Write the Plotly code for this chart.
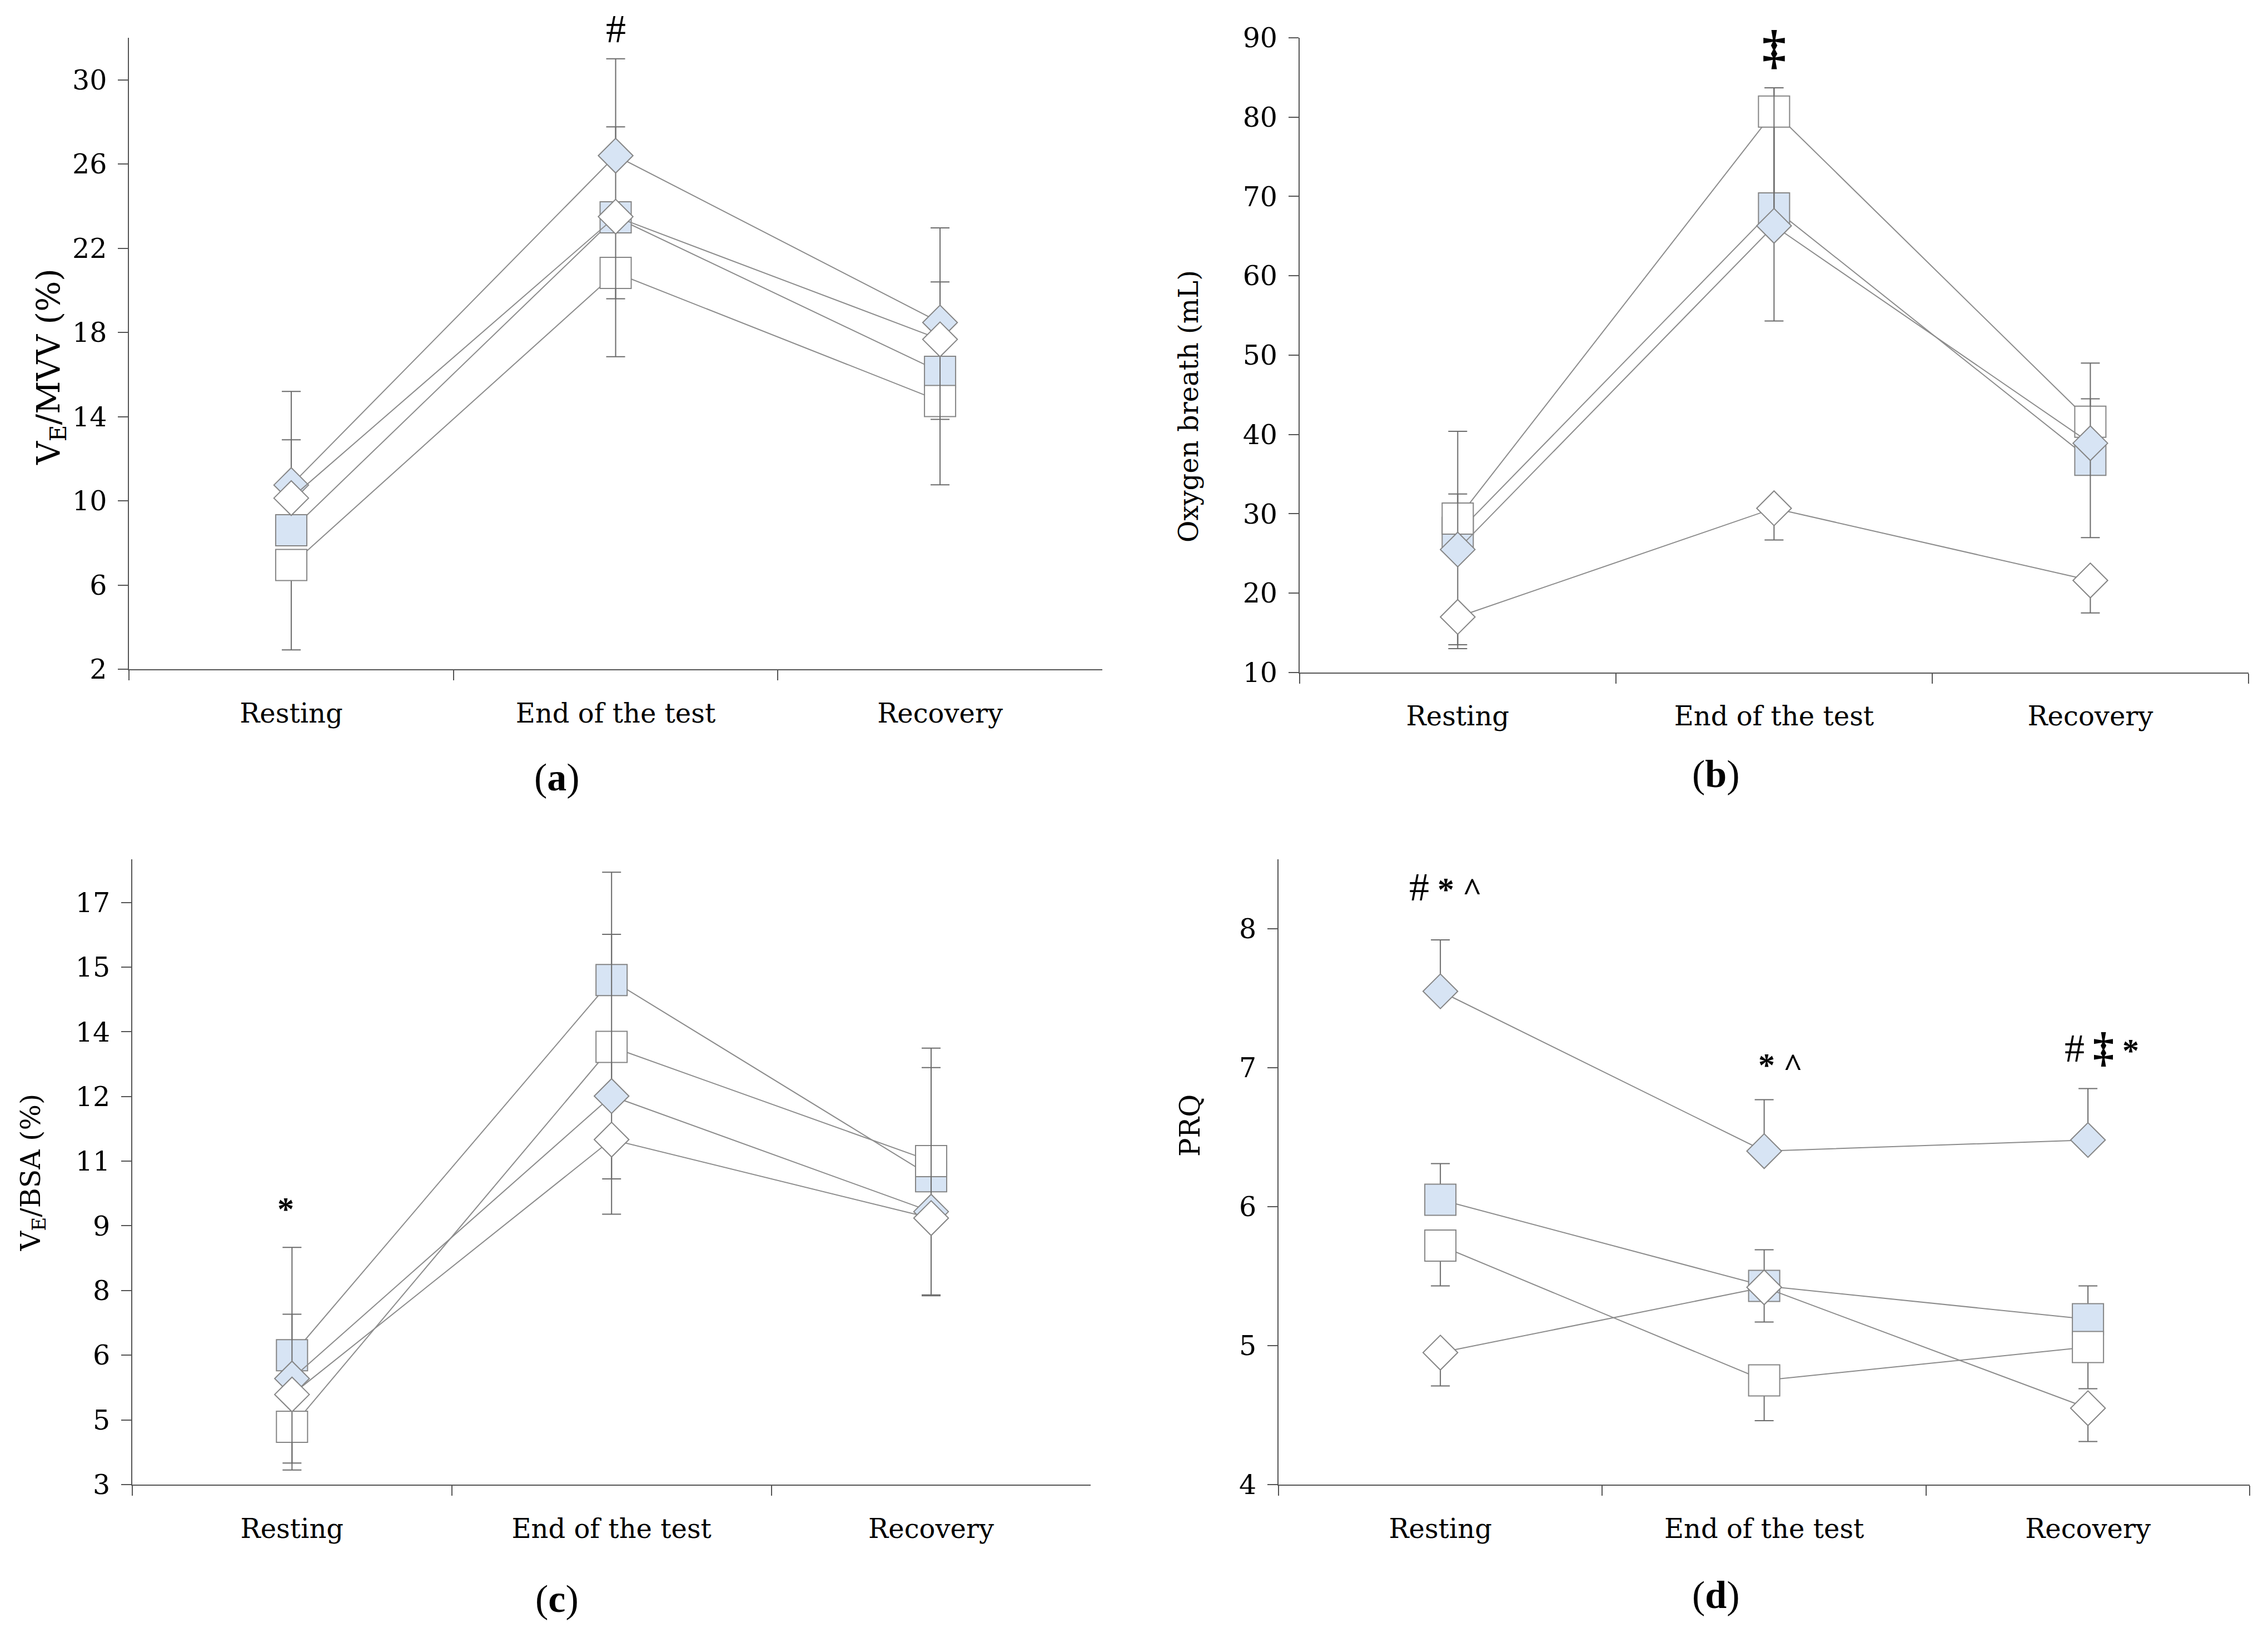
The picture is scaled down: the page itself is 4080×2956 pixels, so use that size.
import plotly.graph_objects as go

phases = ["Resting", "End of the test", "Recovery"]

# panel (a) VE/MVV (%)
a_blue_dia = [10.75, 26.4, 18.47]
a_blue_dia_up = [4.45, 4.6, 4.5]
a_blue_sq = [8.6, 23.47, 16.13]
a_blue_sq_up = [4.3, 4.3, 4.27]
a_white_sq = [6.95, 20.83, 14.74]
a_white_sq_dn = [4.03, 3.98, 3.98]
a_white_dia = [10.13, 23.5, 17.67]
a_white_dia_dn = [0, 3.9, 3.8]
a_ticks = [2, 6, 10, 14, 18, 22, 26, 30]

# panel (b) oxygen breath (mL)
b_blue_dia = [25.5, 66.3, 38.9]
b_blue_dia_up = [14.9, 17.4, 10.1]
b_blue_sq = [27.6, 68.5, 36.8]
b_blue_sq_up = [4.9, 15.2, 7.7]
b_white_sq = [29.4, 80.7, 41.6]
b_white_sq_dn = [15.9, 26.4, 14.6]
b_white_dia = [17.0, 30.7, 21.6]
b_white_dia_dn = [4.0, 4.0, 4.1]
b_ticks = [10, 20, 30, 40, 50, 60, 70, 80, 90]

# panel (c) VE/BSA (%)
c_blue_dia = [5.46, 12.01, 9.33]
c_blue_dia_up = [1.49, 3.75, 3.79]
c_blue_sq = [6.0, 14.7, 10.15]
c_blue_sq_up = [2.5, 2.5, 2.52]
c_white_sq = [4.34, 13.15, 10.5]
c_white_sq_dn = [0.84, 3.88, 3.1]
c_white_dia = [5.09, 11.0, 9.18]
c_white_dia_dn = [1.75, 0.91, 1.8]
c_ticks = [3, 4.5, 6, 7.5, 9, 10.5, 12, 13.5, 15, 16.5]
c_ticklabels = ["3", "5", "6", "8", "9", "11", "12", "14", "15", "17"]

# panel (d) PRQ
d_blue_dia = [7.55, 6.40, 6.48]
d_blue_dia_up = [0.37, 0.37, 0.37]
d_blue_sq = [6.05, 5.43, 5.19]
d_blue_sq_up = [0.26, 0.26, 0.24]
d_white_sq = [5.72, 4.75, 4.99]
d_white_sq_dn = [0.29, 0.29, 0.30]
d_white_dia = [4.95, 5.42, 4.55]
d_white_dia_dn = [0.24, 0.25, 0.24]
d_ticks = [4, 5, 6, 7, 8]

SERIF = "DejaVu Serif"
MARKF = "Liberation Serif"
BLUE = "#d7e4f4"
EDGE = "#858585"
ERR = "#6b6b6b"
AXIS = "#555555"

# page body has an 8px margin, pull everything back by that much
DX = 8 / 4080
DY = 8 / 2956

fig = go.Figure()


def add_series(n, vals, err, up, symbol, fill, size):
    ax = "" if n == 1 else str(n)
    zeros = [0] * len(vals)
    fig.add_trace(go.Scatter(
        x=phases, y=vals, xaxis="x" + ax, yaxis="y" + ax,
        mode="lines+markers", showlegend=False, cliponaxis=False,
        line=dict(color="#8c8c8c", width=2),
        marker=dict(symbol=symbol, size=size, color=fill,
                    line=dict(color=EDGE, width=2)),
        error_y=dict(type="data", symmetric=False,
                     array=err if up else zeros,
                     arrayminus=zeros if up else err,
                     color=ERR, thickness=2, width=17),
    ))


def add_panel(n, bs, bs_up, ws, ws_dn, bd, bd_up, wd, wd_dn):
    add_series(n, bs, bs_up, True, "square", BLUE, 56)
    add_series(n, ws, ws_dn, False, "square", "white", 56)
    add_series(n, bd, bd_up, True, "diamond", BLUE, 48)
    add_series(n, wd, wd_dn, False, "diamond", "white", 48)


add_panel(1, a_blue_sq, a_blue_sq_up, a_white_sq, a_white_sq_dn,
          a_blue_dia, a_blue_dia_up, a_white_dia, a_white_dia_dn)
add_panel(2, b_blue_sq, b_blue_sq_up, b_white_sq, b_white_sq_dn,
          b_blue_dia, b_blue_dia_up, b_white_dia, b_white_dia_dn)
add_panel(3, c_blue_sq, c_blue_sq_up, c_white_sq, c_white_sq_dn,
          c_blue_dia, c_blue_dia_up, c_white_dia, c_white_dia_dn)
add_panel(4, d_blue_sq, d_blue_sq_up, d_white_sq, d_white_sq_dn,
          d_blue_dia, d_blue_dia_up, d_white_dia, d_white_dia_dn)

xdoms = [[0.0569, 0.486], [0.573, 0.9914], [0.0583, 0.481], [0.5637, 0.992]]
ydoms = [[0.5927, 0.977], [0.5907, 0.977], [0.0964, 0.477], [0.0964, 0.477]]
yranges = [[2, 32], [10, 90], [3, 17.5], [4, 8.5]]
ytickvals = [a_ticks, b_ticks, c_ticks, d_ticks]
yticktext = [[str(t) for t in a_ticks], [str(t) for t in b_ticks],
             c_ticklabels, [str(t) for t in d_ticks]]

for i in range(4):
    sfx = "" if i == 0 else str(i + 1)
    fig.layout["xaxis" + sfx] = dict(
        domain=[xdoms[i][0] - DX, xdoms[i][1] - DX], anchor="y" + sfx,
        type="category", range=[-0.5, 2.5], tickson="boundaries",
        ticks="outside", ticklen=18, tickwidth=2, tickcolor=AXIS,
        showline=True, linecolor=AXIS, linewidth=2, showgrid=False,
        zeroline=False, automargin=False, ticklabelstandoff=36,
        tickfont=dict(family=SERIF, size=48, color="black"))
    fig.layout["yaxis" + sfx] = dict(
        domain=[ydoms[i][0] + DY, ydoms[i][1] + DY], anchor="x" + sfx,
        range=yranges[i], tickvals=ytickvals[i], ticktext=yticktext[i],
        ticks="outside", ticklen=18, tickwidth=2, tickcolor=AXIS,
        showline=True, linecolor=AXIS, linewidth=2, showgrid=False,
        zeroline=False, automargin=False, ticklabelstandoff=10,
        tickfont=dict(family=SERIF, size=49, color="black"))

ann = []
# y-axis titles
ytitles = [("V<sub>E</sub>/MVV (%)", 0.0223, 0.7767, 58),
           ("Oxygen breath (mL)", 0.524, 0.7527, 48),
           ("V<sub>E</sub>/BSA (%)", 0.0145, 0.2862, 49),
           ("PRQ", 0.5248, 0.315, 50)]
for txt, x, y, fs in ytitles:
    ann.append(dict(text=txt, x=x - DX, y=y + DY, xref="paper", yref="paper",
                    xanchor="center", yanchor="middle",
                    textangle=-90, showarrow=False,
                    font=dict(family=SERIF, size=fs, color="black")))

# panel letters
letters = [("a", 0.2456, 0.527), ("b", 0.7566, 0.5288),
           ("c", 0.2456, 0.027), ("d", 0.7566, 0.0294)]
for l, x, y in letters:
    ann.append(dict(text="(<b>" + l + "</b>)", x=x - DX, y=y + DY,
                    xref="paper", yref="paper", xanchor="center",
                    yanchor="middle", showarrow=False,
                    font=dict(family=MARKF, size=70, color="black")))

# significance marks (x in category units)
HASH = "<span style='font-size:72px;font-weight:normal'>#</span>"
marks = [
    (HASH, "x", 1, "paper", 1 - 52 / 2956 + DY),
    ("<b style='font-size:86px'>‡</b>", "x2", 1, "y2", 88.8),
    ("<b>*</b>", "x3", -0.02, "y3", 9.39),
    (HASH + " <b>*</b> <b>^</b>", "x4", 0.016, "y4", 8.30),
    ("<b>*</b> <b>^</b>", "x4", 1.05, "y4", 7.02),
    (HASH + " <b style='font-size:76px'>‡</b> <b>*</b>", "x4", 2.042, "y4", 7.15),
]
for txt, xr, x, yr, y in marks:
    ann.append(dict(text=txt, x=x, y=y, xref=xr, yref=yr, showarrow=False,
                    xanchor="center", yanchor="middle",
                    font=dict(family=MARKF, size=60, color="black")))

fig.update_layout(
    width=4080, height=2956, autosize=False,
    margin=dict(l=0, r=0, t=0, b=0),
    paper_bgcolor="white", plot_bgcolor="white",
    annotations=ann,
)

fig.write_html("out.html")
